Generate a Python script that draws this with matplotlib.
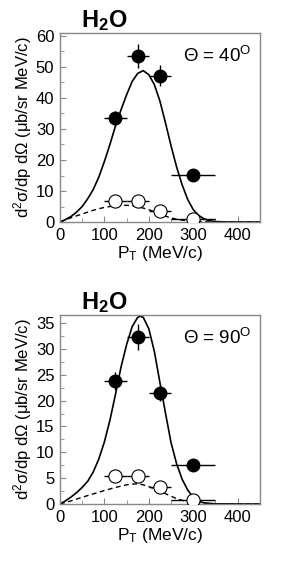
import matplotlib
matplotlib.use("Agg")
import matplotlib.pyplot as plt
from matplotlib.ticker import MultipleLocator

plt.rcParams['font.family'] = ['Liberation Sans', 'DejaVu Sans']
plt.rcParams['mathtext.fontset'] = 'custom'
plt.rcParams['mathtext.rm'] = 'Liberation Sans'
plt.rcParams['mathtext.it'] = 'Liberation Sans'
plt.rcParams['mathtext.bf'] = 'Liberation Sans:bold'

# --- data ---
pt_bins = [125, 175, 225, 300]
pt_err = [25, 25, 25, 50]

# theta = 40 deg
filled_40 = [33.4, 53.6, 47.1, 15.3]
filled_40_err = [2.5, 3.9, 3.4, 1.0]
open_40 = [6.8, 6.7, 3.4, 1.1]
open_40_err = [0.6, 0.6, 0.5, 0.3]

solid_x_40 = [0, 12.5, 25, 37.5, 50, 62.5, 75, 87.5, 100, 112.5, 125, 137.5, 150, 162.5,
              175, 187.5, 200, 212.5, 225, 237.5, 250, 262.5, 275, 287.5, 300, 312.5,
              325, 337.5, 350, 375, 400, 450]
solid_y_40 = [0, 0.8, 1.8, 3.2, 5.0, 7.5, 10.5, 14.5, 19.5, 25, 31, 36.2, 41, 45.3,
              47.9, 48.8, 47.5, 44.3, 39, 32, 24.6, 17.8, 12, 7.3, 4.0, 2.1,
              1.0, 0.4, 0.15, 0.03, 0, 0]
dash_x_40 = [0, 12.5, 25, 37.5, 50, 62.5, 75, 87.5, 100, 112.5, 125, 137.5, 150, 162.5,
             175, 187.5, 200, 212.5, 225, 237.5, 250, 262.5, 275, 287.5, 300, 325,
             350, 400, 450]
dash_y_40 = [0, 0.7, 1.4, 2.0, 2.6, 3.2, 3.8, 4.3, 4.7, 5.0, 5.2, 5.35, 5.4, 5.25,
             4.9, 4.5, 4.0, 3.3, 2.6, 1.9, 1.35, 0.9, 0.6, 0.4, 0.28, 0.1,
             0.03, 0, 0]

# theta = 90 deg
filled_90 = [23.8, 32.3, 21.4, 7.5]
filled_90_err = [1.8, 2.6, 1.5, 0.8]
open_90 = [5.5, 5.4, 3.2, 0.8]
open_90_err = [0.5, 0.5, 0.4, 0.3]

solid_x_90 = [0, 12.5, 25, 37.5, 50, 62.5, 75, 87.5, 100, 112.5, 125, 137.5, 150, 162.5,
              175, 181, 187.5, 200, 212.5, 225, 237.5, 250, 262.5, 275, 287.5, 300,
              312.5, 325, 350, 400, 450]
solid_y_90 = [0, 0.6, 1.35, 2.2, 3.2, 4.4, 6.2, 8.7, 12, 16.2, 21.2, 26.5, 30.8, 34.3,
              36.1, 36.3, 36.1, 33.9, 29.5, 23.5, 17.6, 11.9, 7.8, 4.8, 2.7, 1.3,
              0.5, 0.2, 0.03, 0, 0]
dash_x_90 = [0, 25, 50, 75, 100, 112.5, 125, 137.5, 150, 162.5, 175, 187.5, 200, 212.5,
             225, 237.5, 250, 262.5, 275, 287.5, 300, 325, 350, 400, 450]
dash_y_90 = [0, 0.6, 1.3, 1.95, 2.6, 2.9, 3.2, 3.45, 3.7, 3.85, 3.9, 3.7, 3.35, 2.95,
             2.5, 2.0, 1.5, 1.05, 0.7, 0.45, 0.3, 0.1, 0.04, 0, 0]

panels = [
    dict(solid=(solid_x_40, solid_y_40), dash=(dash_x_40, dash_y_40),
         filled=(filled_40, filled_40_err), opn=(open_40, open_40_err),
         ymax=61, ymaj=10, ymin=5, angle="40", pos=[0.206, 0.607, 0.687, 0.335]),
    dict(solid=(solid_x_90, solid_y_90), dash=(dash_x_90, dash_y_90),
         filled=(filled_90, filled_90_err), opn=(open_90, open_90_err),
         ymax=36.5, ymaj=5, ymin=2.5, angle="90", pos=[0.206, 0.108, 0.687, 0.334]),
]

fig = plt.figure(figsize=(2.91, 5.65), dpi=100)

for p in panels:
    ax = fig.add_axes(p["pos"])
    ax.plot(*p["solid"], color="black", lw=1.2, zorder=2)
    ax.plot(*p["dash"], color="black", lw=1.0, ls=(0, (3.5, 2.5)), zorder=2)

    yv, ye = p["opn"]
    ax.errorbar(pt_bins, yv, xerr=pt_err, yerr=ye, fmt="o", ms=9.5, mfc="white",
                mec="black", mew=0.8, ecolor="black", elinewidth=1.0, capsize=0, zorder=3)
    yv, ye = p["filled"]
    ax.errorbar(pt_bins, yv, xerr=pt_err, yerr=ye, fmt="o", ms=9, mfc="black",
                mec="black", ecolor="black", elinewidth=1.0, capsize=0, zorder=4)

    ax.set_xlim(0, 450)
    ax.set_ylim(0, p["ymax"])
    ax.xaxis.set_major_locator(MultipleLocator(100))
    ax.xaxis.set_minor_locator(MultipleLocator(50))
    ax.yaxis.set_major_locator(MultipleLocator(p["ymaj"]))
    ax.yaxis.set_minor_locator(MultipleLocator(p["ymin"]))
    ax.tick_params(which="both", direction="in", top=False, right=False,
                   color="#888888", labelsize=12, pad=4)
    ax.tick_params(which="major", length=4)
    ax.tick_params(which="minor", length=3)
    for s in ax.spines.values():
        s.set_color("#888888")
        s.set_linewidth(1.0)

    ax.set_xlabel(r"P$_\mathrm{T}$ (MeV/c)", fontsize=12.5, labelpad=1)
    ax.set_ylabel(r"d$^2$σ/dp dΩ (μb/sr MeV/c)", fontsize=12, labelpad=1)
    ax.text(0.785, 0.88, r"Θ = " + p["angle"] + r"$^\mathrm{O}$", transform=ax.transAxes,
            ha="center", va="center", fontsize=13.5)
    ax.text(0.22, 1.0, r"H$_\mathbf{2}$O", transform=ax.transAxes, ha="center",
            va="bottom", fontsize=17, fontweight="bold")

fig.savefig("out.png", dpi=100)
